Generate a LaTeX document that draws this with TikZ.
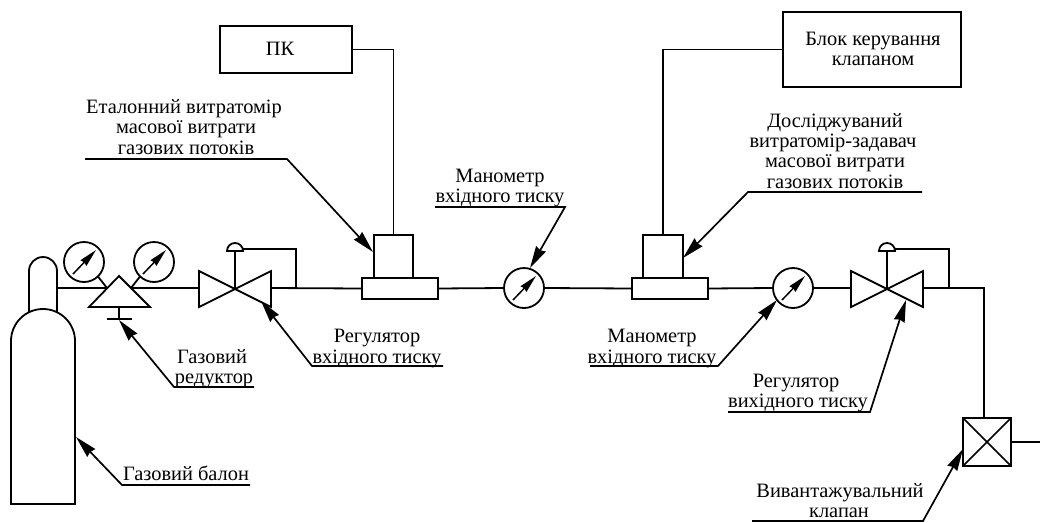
\documentclass[tikz,border=0pt]{standalone}
\usepackage{fontspec}
\setmainfont{Liberation Serif}
\usetikzlibrary{arrows.meta,calc}
\tikzset{
  pipe/.style={line width=1.8pt},
  boxnode/.style={draw,line width=1.8pt,inner sep=0pt,outer sep=0pt,align=center},
  gaugenode/.style={draw,circle,line width=1.8pt,minimum size=40pt,inner sep=0pt,outer sep=0pt},
  lbl/.style={anchor=base,inner sep=0pt,outer sep=0pt,font=\fontsize{20.4}{22}\selectfont},
  leader/.style={line width=1.7pt,-{Stealth[length=22pt,width=11pt,inset=1.5pt]}},
  needle/.style={line width=1.5pt,-{Stealth[length=18pt,width=8pt,inset=1pt]}},
}
\newcommand{\gaugeneedle}[1]{\draw[needle] ($(#1)+(-11,12)$) -- ($(#1)+(12,-12)$);}
\newcommand{\valvebody}[1]{%
  \draw[pipe] ($(#1)+(-36,-17)$) -- ($(#1)+(36,19)$) -- ($(#1)+(36,-17)$) -- ($(#1)+(-36,19)$) -- cycle;
  \draw[pipe] (#1) -- ($(#1)+(0,-37)$);
  \draw[pipe,fill=white] ($(#1)+(-8,-37)$) arc[start angle=180,end angle=360,radius=8] -- cycle;}
\begin{document}
\begin{tikzpicture}[x=1pt,y=-1pt]
\useasboundingbox (0,0) rectangle (1040,522);
% cylinder
\draw[pipe] (29,312) -- (29,271) arc[start angle=180,end angle=360,radius=14] -- (57,312);
\draw[pipe] (11,504) -- (11,341) arc[start angle=180,end angle=360,radius=32] -- (75,504) -- cycle;
\coordinate (neck) at (57,288);
\coordinate (baltip) at (76,437);
% reducer
\coordinate (ra) at (119,276);
\coordinate (rl) at (89,307);
\coordinate (rr) at (150,307);
\coordinate (rin) at (107,288);
\coordinate (rout) at (131,288);
\draw[pipe] (ra) -- (rl) -- (rr) -- cycle;
\coordinate (rb) at (119,307);
\coordinate (rs) at (119,319);
\draw[pipe] (rb) -- (rs);
\draw[pipe] (107,319) -- (132,319);
\node[gaugenode] (g1) at (84,262) {};
\node[gaugenode] (g2) at (154,262) {};
\gaugeneedle{g1}
\gaugeneedle{g2}
\draw[pipe] (g1.-46) -- (rin);
\draw[pipe] (g2.226) -- (rout);
\draw[pipe] (neck) -- (rin);
% inlet valve
\coordinate (v1) at (235,288);
\valvebody{v1}
\coordinate (v1l) at (199,288);
\coordinate (v1r) at (271,288);
\draw[pipe] (rout) -- (v1l);
% flow meter 1
\node[boxnode,minimum width=76pt,minimum height=21pt] (m1) at (400,288.5) {};
\node[boxnode,minimum width=39pt,minimum height=43pt,anchor=south] (u1) at (393.5,278) {};
\draw[pipe] (v1r) -- (m1.west);
\draw[pipe] (243,249) -| (296,288);
% gauge middle
\node[gaugenode] (g3) at (524,288) {};
\gaugeneedle{g3}
\draw[pipe] (m1.east) -- (g3.west);
% flow meter 2
\node[boxnode,minimum width=76pt,minimum height=21pt] (m2) at (670,288.5) {};
\node[boxnode,minimum width=40pt,minimum height=43pt,anchor=south] (u2) at (663,278) {};
\draw[pipe] (g3.east) -- (m2.west);
% gauge 4
\node[gaugenode] (g4) at (793,288) {};
\gaugeneedle{g4}
\draw[pipe] (m2.east) -- (g4.west);
% outlet valve
\coordinate (v2) at (887,288);
\valvebody{v2}
\coordinate (v2l) at (851,288);
\coordinate (v2r) at (923,288);
\draw[pipe] (g4.east) -- (v2l);
\draw[pipe] (895,249) -| (949,288);
% dump valve
\node[boxnode,minimum size=48pt] (dv) at (987,442) {};
\draw[line width=1.5pt] (dv.north west) -- (dv.south east);
\draw[line width=1.5pt] (dv.north east) -- (dv.south west);
\draw[pipe] (v2r) -- (984,288) -- (984,418);
\coordinate (outl) at (1040,442);
\draw[pipe] (dv.east) -- (outl);
% top boxes
\node[boxnode,minimum width=132pt,minimum height=47pt] (pk) at (286,49.5) {};
\node[lbl] (pkt) at (280,55) {ПК};
\draw[pipe] (pk.east) -| (u1.north);
\node[boxnode,minimum width=178pt,minimum height=75pt] (blk) at (872,49.5) {};
\node[lbl] (b1) at (873,45) {Блок керування};
\node[lbl] (b2) at (873,65) {клапаном};
\draw[pipe] (blk.west) -| (u2.north);
% leaders
\coordinate (a1) at (85,159); \coordinate (a2) at (287,159); \coordinate (a3) at (373,252);
\draw[leader] (a1) -- (a2) -- (a3);
\node[lbl] (e1) at (184,113) {Еталонний витратомір};
\node[lbl] (e2) at (186,133) {масової витрати};
\node[lbl] (e3) at (186,154) {газових потоків};
\coordinate (c1) at (922,192); \coordinate (c2) at (748,192); \coordinate (c3) at (683,258);
\draw[leader] (c1) -- (c2) -- (c3);
\node[lbl] (d1) at (835,127) {Досліджуваний};
\node[lbl] (d2) at (833,147) {витратомір-задавач};
\node[lbl] (d3) at (835,167) {масової витрати};
\node[lbl] (d4) at (835,188) {газових потоків};
\coordinate (f1) at (435,207); \coordinate (f2) at (565,207); \coordinate (f3) at (530,268);
\draw[leader] (f1) -- (f2) -- (f3);
\node[lbl] (m3a) at (500,182) {Манометр};
\node[lbl] (m3b) at (500,202) {вхідного тиску};
\coordinate (h1) at (254,387); \coordinate (h2) at (174,387); \coordinate (h3) at (119,320);
\draw[leader] (h1) -- (h2) -- (h3);
\node[lbl] (r1) at (212,363) {Газовий};
\node[lbl] (r2) at (214,383) {редуктор};
\coordinate (i1) at (250,485); \coordinate (i2) at (122,485);
\draw[leader] (i1) -- (i2) -- (baltip);
\node[lbl] (bl) at (186,480) {Газовий балон};
\coordinate (j1) at (443,366); \coordinate (j2) at (312,366); \coordinate (j3) at (261,301);
\draw[leader] (j1) -- (j2) -- (j3);
\node[lbl] (v1a) at (377,342) {Регулятор};
\node[lbl] (v1b) at (377,363) {вхідного тиску};
\coordinate (k1) at (590,366); \coordinate (k2) at (718,366); \coordinate (k3) at (777,300);
\draw[leader] (k1) -- (k2) -- (k3);
\node[lbl] (m4a) at (652,342) {Манометр};
\node[lbl] (m4b) at (652,363) {вхідного тиску};
\coordinate (l1) at (728,412); \coordinate (l2) at (870,412); \coordinate (l3) at (906,300);
\draw[leader] (l1) -- (l2) -- (l3);
\node[lbl] (v2a) at (796,387) {Регулятор};
\node[lbl] (v2b) at (798,407) {вихідного тиску};
\coordinate (n1) at (752,521); \coordinate (n2) at (923,521); \coordinate (n3) at (963,449);
\draw[leader] (n1) -- (n2) -- (n3);
\node[lbl] (w1) at (840,497) {Вивантажувальний};
\node[lbl] (w2) at (839,517) {клапан};
\end{tikzpicture}
\end{document}
